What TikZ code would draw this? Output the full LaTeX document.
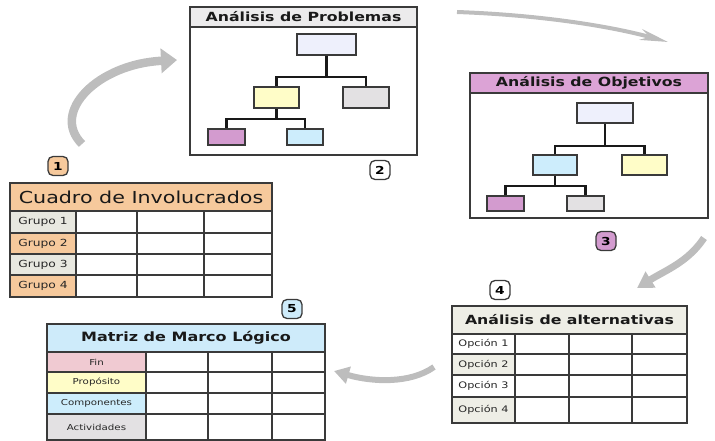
\documentclass[tikz,border=0pt]{standalone}
\usepackage{fontspec}
\setmainfont{DejaVu Sans}
\newfontfamily\wf[FakeStretch=1.25]{DejaVu Sans}
\usetikzlibrary{arrows.meta,shapes.misc}
\definecolor{linec}{HTML}{3A3A3A}
\definecolor{arrowgray}{HTML}{BDBDBD}
\definecolor{lav}{HTML}{EEF0FC}
\definecolor{yel}{HTML}{FFFDC8}
\definecolor{gry}{HTML}{E3E1E3}
\definecolor{pnk}{HTML}{D39BCF}
\definecolor{blu}{HTML}{CDEDFC}
\definecolor{hdrgray}{HTML}{ECEBEC}
\definecolor{hdrpink}{HTML}{DCA3D6}
\definecolor{orng}{HTML}{F6C99C}
\definecolor{lgray}{HTML}{E8E8E0}
\definecolor{mblue}{HTML}{CEEBFA}
\definecolor{finpink}{HTML}{F0CAD2}
\definecolor{altgray}{HTML}{EEEEE6}
\begin{document}
\begin{tikzpicture}[x=1pt,y=-1pt,
  tbox/.style={draw=linec, line width=1.3pt, inner sep=0pt},
  conn/.style={draw=black!90, line width=2.2pt},
  gridl/.style={draw=linec, line width=1.3pt},
  badge/.style={rectangle, rounded corners=5pt, draw=linec, line width=1.3pt, minimum width=20pt, minimum height=19pt, inner sep=0pt, font=\wf\bfseries\fontsize{11}{11}\selectfont},
  ttl/.style={font=\wf\bfseries\fontsize{12.6}{13}\selectfont, text=black!90},
  lbl/.style={tbox, font=\wf\fontsize{9.8}{10}\selectfont, text=black!85},
  mlbl/.style={tbox, font=\wf\fontsize{8.2}{9}\selectfont, text=black!85}
]
\useasboundingbox (0,0) rectangle (715,441);

% ---------- Analisis de Problemas ----------
\node[tbox, minimum width=227pt, minimum height=148pt] (pframe) at (303.5,81) {};
\node[tbox, fill=hdrgray, minimum width=227pt, minimum height=20pt, ttl] (phead) at (303.5,17) {Análisis de Problemas};
\node[tbox, fill=lav, minimum width=59pt, minimum height=21pt] (p0) at (326.5,44.5) {};
\node[tbox, fill=yel, minimum width=45pt, minimum height=21pt] (p1) at (276.5,97.5) {};
\node[tbox, fill=gry, minimum width=46pt, minimum height=21pt] (p2) at (366,97.5) {};
\node[tbox, fill=pnk, minimum width=37pt, minimum height=16pt] (p3) at (226.5,137) {};
\node[tbox, fill=blu, minimum width=36pt, minimum height=16pt] (p4) at (305,137) {};
\draw[conn] (p0.south) -- ++(0,21) -| (p1.north);
\draw[conn] (p0.south) ++(0,21) -| (p2.north);
\draw[conn] (p1.south) -- ++(0,10) -| (p3.north);
\draw[conn] (p1.south) ++(0,10) -| (p4.north);
\node[badge, fill=white] (b2) at (380,170) {2};

% ---------- Analisis de Objetivos ----------
\node[tbox, minimum width=238pt, minimum height=145pt] (oframe) at (589,145.5) {};
\node[tbox, fill=hdrpink, minimum width=238pt, minimum height=20pt, ttl] (ohead) at (589,83) {Análisis de Objetivos};
\node[tbox, fill=lav, minimum width=56pt, minimum height=20pt] (o0) at (605,113) {};
\node[tbox, fill=blu, minimum width=44pt, minimum height=20pt] (o1) at (555,165) {};
\node[tbox, fill=yel, minimum width=45pt, minimum height=20pt] (o2) at (644.5,165) {};
\node[tbox, fill=pnk, minimum width=37pt, minimum height=15pt] (o3) at (505.5,203.5) {};
\node[tbox, fill=gry, minimum width=37pt, minimum height=15pt] (o4) at (585.5,203.5) {};
\draw[conn] (o0.south) -- ++(0,22) -| (o1.north);
\draw[conn] (o0.south) ++(0,22) -| (o2.north);
\draw[conn] (o1.south) -- ++(0,10) -| (o3.north);
\draw[conn] (o1.south) ++(0,10) -| (o4.north);
\node[badge, fill=pnk] (b3) at (606,241) {3};

% ---------- Cuadro de Involucrados ----------
\node[tbox, fill=orng, minimum width=262pt, minimum height=28pt, font=\wf\fontsize{16.5}{17}\selectfont, text=black!90] (chead) at (141,197) {Cuadro de Involucrados};
\node[lbl, fill=lgray, minimum width=66pt, minimum height=22pt] (g1) at (43,222) {Grupo 1};
\node[lbl, fill=orng, minimum width=66pt, minimum height=21pt] (g2) at (43,243.5) {Grupo 2};
\node[lbl, fill=lgray, minimum width=66pt, minimum height=21pt] (g3) at (43,264.5) {Grupo 3};
\node[lbl, fill=orng, minimum width=66pt, minimum height=22pt] (g4) at (43,286) {Grupo 4};
\draw[gridl] (10,183) rectangle (272,297);
\foreach \yy in {211,233,254,275} \draw[gridl] (10,\yy) -- (272,\yy);
\foreach \xx in {76,137,204} \draw[gridl] (\xx,211) -- (\xx,297);
\node[badge, fill=orng] (b1) at (58,166) {1};

% ---------- Matriz de Marco Logico ----------
\node[tbox, fill=mblue, minimum width=278pt, minimum height=28pt, ttl, font=\wf\bfseries\fontsize{12.8}{13}\selectfont] (mhead) at (186,338) {Matriz de Marco Lógico};
\node[mlbl, fill=finpink, minimum width=99pt, minimum height=20pt] (m1) at (96.5,362) {Fin};
\node[mlbl, fill=yel, minimum width=99pt, minimum height=21pt] (m2) at (96.5,382.5) {Propósito};
\node[mlbl, fill=blu, minimum width=99pt, minimum height=21pt] (m3) at (96.5,403.5) {Componentes};
\node[mlbl, fill=gry, minimum width=99pt, minimum height=26pt] (m4) at (96.5,427) {Actividades};
\draw[gridl] (47,324) rectangle (325,440);
\foreach \yy in {352,372,393,414} \draw[gridl] (47,\yy) -- (325,\yy);
\foreach \xx in {146,208,272} \draw[gridl] (\xx,352) -- (\xx,440);
\node[badge, fill=mblue] (b5) at (292,309) {5};

% ---------- Analisis de alternativas ----------
\node[tbox, fill=altgray, minimum width=235pt, minimum height=28pt, ttl] (ahead) at (569.5,320) {Análisis de alternativas};
\node[lbl, fill=white, minimum width=63pt, minimum height=20pt, font=\wf\fontsize{9}{9}\selectfont] (q1) at (483.5,344) {Opción 1};
\node[lbl, fill=altgray, minimum width=63pt, minimum height=21pt, font=\wf\fontsize{9}{9}\selectfont] (q2) at (483.5,364.5) {Opción 2};
\node[lbl, fill=white, minimum width=63pt, minimum height=22pt, font=\wf\fontsize{9}{9}\selectfont] (q3) at (483.5,386) {Opción 3};
\node[lbl, fill=altgray, minimum width=63pt, minimum height=26pt, font=\wf\fontsize{9}{9}\selectfont] (q4) at (483.5,410) {Opción 4};
\draw[gridl] (452,306) rectangle (687,423);
\foreach \yy in {334,354,375,397} \draw[gridl] (452,\yy) -- (687,\yy);
\foreach \xx in {515,569,632} \draw[gridl] (\xx,334) -- (\xx,423);
\node[badge, fill=white] (b4) at (500,290) {4};

% ---------- cycle arrows ----------
\coordinate (a1s) at (82,144);
\coordinate (a1e) at (177,60);
\draw[draw=arrowgray, line width=8.5pt, -{Triangle[length=16pt,width=24pt,fill=arrowgray]}] (a1s) .. controls (50,112) and (98,64) .. (a1e);
\coordinate (a2s) at (457,12);
\coordinate (a2e) at (668,42);
\draw[draw=arrowgray, line width=4pt, -{Stealth[length=28pt,width=11pt,inset=9pt,fill=arrowgray]}] (a2s) .. controls (540,15) and (610,26) .. (a2e);
\coordinate (a3s) at (704,238);
\coordinate (a3e) at (637,288);
\draw[draw=arrowgray, line width=7pt, -{Triangle[length=16pt,width=18pt,fill=arrowgray]}] (a3s) .. controls (688,262) and (666,270) .. (a3e);
\coordinate (a4s) at (434,367);
\coordinate (a4e) at (334,371);
\draw[draw=arrowgray, line width=6pt, -{Triangle[length=15pt,width=17pt,fill=arrowgray]}] (a4s) .. controls (410,384) and (372,382) .. (a4e);
\end{tikzpicture}
\end{document}
